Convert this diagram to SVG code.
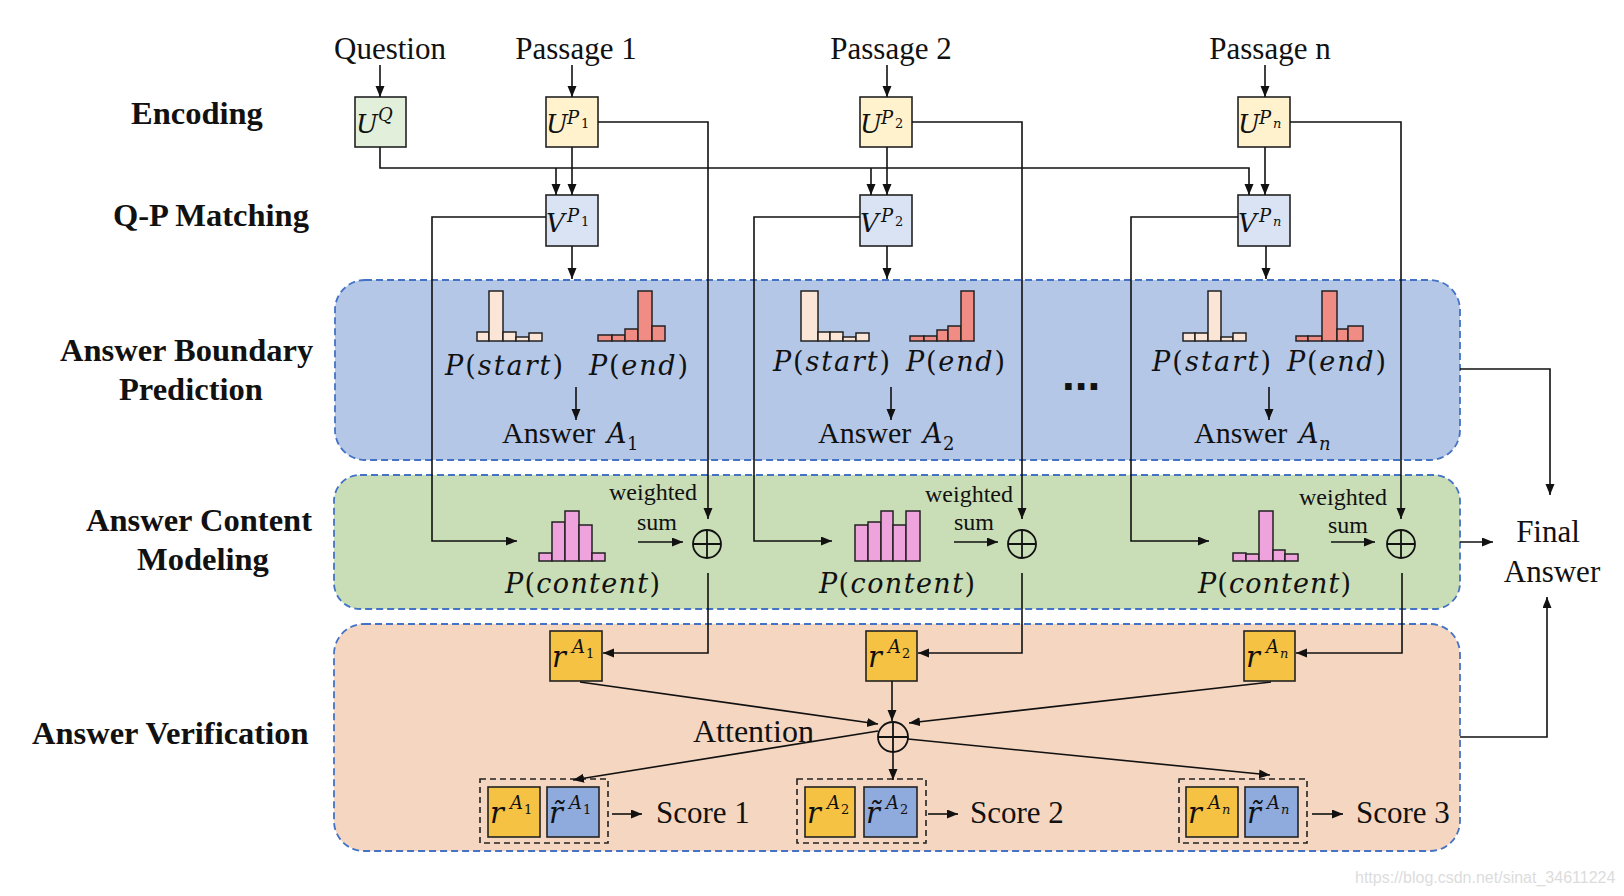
<svg xmlns="http://www.w3.org/2000/svg" width="1624" height="896" viewBox="0 0 1624 896">
<defs>
<marker id="ah" markerUnits="userSpaceOnUse" markerWidth="12" markerHeight="10" refX="11" refY="4.5" orient="auto"><path d="M0,0 L11,4.5 L0,9 z" fill="#111"/></marker>
<style>
.t{font-family:"Liberation Serif",serif;fill:#111}
.b{font-family:"Liberation Serif",serif;font-weight:bold;font-size:32.5px;fill:#111}
.m{font-family:"DejaVu Serif",serif;font-style:italic;fill:#111}
.u{font-style:normal}
.ln{fill:none;stroke:#111;stroke-width:1.6}
.ar{marker-end:url(#ah)}
.bx{stroke:#222;stroke-width:1.6}
.hs{fill:#FBE5D6;stroke:#222;stroke-width:1.5}
.he{fill:#F18C85;stroke:#222;stroke-width:1.5}
.hc{fill:#EFA3DC;stroke:#222;stroke-width:1.5}
.reg{stroke:#4472C4;stroke-width:1.8;stroke-dasharray:7 4}
.dsh{fill:none;stroke:#222;stroke-width:1.6;stroke-dasharray:6 4}
.uq{fill:#E2EFDA}.up{fill:#FFF2CC}.vp{fill:#DAE3F3}.ry{fill:#F6C244}.rb{fill:#8FAADC}
.ci{fill:none;stroke:#111;stroke-width:1.8}
.L{font-size:26px}.S{font-size:18px}.s{font-size:13px}
</style>
</defs>
<rect width="1624" height="896" fill="#fff"/>

<g id="regions">
<rect id="boundary-region" class="reg" x="335" y="280" width="1125" height="180" rx="30" fill="#B4C7E7"/>
<rect id="content-region" class="reg" x="334" y="475" width="1126" height="134" rx="26" fill="#C9DEB6"/>
<rect id="verify-region" class="reg" x="334" y="624" width="1126" height="227" rx="30" fill="#F5D6C0"/>
</g>

<g id="row-labels">
<text class="b" x="131" y="124">Encoding</text>
<text class="b" x="113" y="226">Q-P Matching</text>
<text class="b" x="60" y="361">Answer Boundary</text>
<text class="b" x="119" y="400">Prediction</text>
<text class="b" x="86" y="531">Answer Content</text>
<text class="b" x="137" y="570">Modeling</text>
<text class="b" x="32" y="744">Answer Verification</text>
</g>

<g id="inputs" font-size="31">
<text class="t" x="390" y="59" text-anchor="middle">Question</text>
<text class="t" x="576" y="59" text-anchor="middle">Passage 1</text>
<text class="t" x="891" y="59" text-anchor="middle">Passage 2</text>
<text class="t" x="1270" y="59" text-anchor="middle">Passage n</text>
</g>

<g id="UQ">
<rect class="bx uq" x="355" y="97" width="51" height="50"/>
<text class="m L" x="356" y="133">U</text><text class="m S" x="378" y="121">Q</text>
</g>
<g id="UP1">
<rect class="bx up" x="546" y="97" width="52" height="50"/>
<text class="m L" x="546" y="133">U</text><text class="m S" x="567" y="124">P</text><text class="m u s" x="581" y="128">1</text>
</g>
<g id="UP2">
<rect class="bx up" x="860" y="97" width="52" height="50"/>
<text class="m L" x="860" y="133">U</text><text class="m S" x="881" y="124">P</text><text class="m u s" x="895" y="128">2</text>
</g>
<g id="UPn">
<rect class="bx up" x="1238" y="97" width="52" height="50"/>
<text class="m L" x="1238" y="133">U</text><text class="m S" x="1259" y="124">P</text><text class="m s" x="1273" y="128">n</text>
</g>

<g id="VP1">
<rect class="bx vp" x="546" y="195" width="52" height="51"/>
<text class="m L" x="546" y="232">V</text><text class="m S" x="567" y="222">P</text><text class="m u s" x="581" y="226">1</text>
</g>
<g id="VP2">
<rect class="bx vp" x="860" y="195" width="52" height="51"/>
<text class="m L" x="860" y="232">V</text><text class="m S" x="881" y="222">P</text><text class="m u s" x="895" y="226">2</text>
</g>
<g id="VPn">
<rect class="bx vp" x="1238" y="195" width="52" height="51"/>
<text class="m L" x="1238" y="232">V</text><text class="m S" x="1259" y="222">P</text><text class="m s" x="1273" y="226">n</text>
</g>

<g id="boundary-1">
<rect class="hs" x="477" y="332" width="12" height="9"/><rect class="hs" x="489" y="291" width="14" height="50"/><rect class="hs" x="503" y="332" width="13" height="9"/><rect class="hs" x="516" y="337" width="13" height="4"/><rect class="hs" x="529" y="333" width="13" height="8"/>
<rect class="he" x="598" y="335" width="14" height="6"/><rect class="he" x="612" y="335" width="13" height="6"/><rect class="he" x="625" y="329" width="13" height="12"/><rect class="he" x="638" y="291" width="14" height="50"/><rect class="he" x="652" y="326" width="13" height="15"/>
<text class="m" x="445" y="375" font-size="27" textLength="118">P<tspan class="u">(</tspan>start<tspan class="u">)</tspan></text>
<text class="m" x="589" y="375" font-size="27" textLength="99">P<tspan class="u">(</tspan>end<tspan class="u">)</tspan></text>
<text class="t" x="502" y="443" font-size="30">Answer</text><text class="m" x="607" y="443" font-size="27">A</text><text class="m u" x="627" y="450" font-size="18">1</text>
</g>
<g id="boundary-2">
<rect class="hs" x="801" y="291" width="17" height="50"/><rect class="hs" x="818" y="332" width="12" height="9"/><rect class="hs" x="830" y="332" width="13" height="9"/><rect class="hs" x="843" y="337" width="13" height="4"/><rect class="hs" x="856" y="333" width="13" height="8"/>
<rect class="he" x="910" y="336" width="14" height="5"/><rect class="he" x="924" y="336" width="13" height="5"/><rect class="he" x="937" y="330" width="11" height="11"/><rect class="he" x="948" y="326" width="13" height="15"/><rect class="he" x="961" y="291" width="13" height="50"/>
<text class="m" x="773" y="371" font-size="27" textLength="117">P<tspan class="u">(</tspan>start<tspan class="u">)</tspan></text>
<text class="m" x="906" y="371" font-size="27" textLength="99">P<tspan class="u">(</tspan>end<tspan class="u">)</tspan></text>
<text class="t" x="818" y="443" font-size="30">Answer</text><text class="m" x="923" y="443" font-size="27">A</text><text class="m u" x="943" y="450" font-size="18">2</text>
</g>
<text id="ellipsis" x="1062" y="390" font-family="Liberation Sans, sans-serif" font-weight="bold" font-size="46" fill="#111">...</text>
<g id="boundary-n">
<rect class="hs" x="1183" y="333" width="12" height="8"/><rect class="hs" x="1195" y="333" width="13" height="8"/><rect class="hs" x="1208" y="291" width="13" height="50"/><rect class="hs" x="1221" y="337" width="12" height="4"/><rect class="hs" x="1233" y="333" width="13" height="8"/>
<rect class="he" x="1296" y="336" width="12" height="5"/><rect class="he" x="1308" y="336" width="14" height="5"/><rect class="he" x="1322" y="291" width="15" height="50"/><rect class="he" x="1337" y="329" width="11" height="12"/><rect class="he" x="1348" y="326" width="15" height="15"/>
<text class="m" x="1152" y="371" font-size="27" textLength="119">P<tspan class="u">(</tspan>start<tspan class="u">)</tspan></text>
<text class="m" x="1287" y="371" font-size="27" textLength="99">P<tspan class="u">(</tspan>end<tspan class="u">)</tspan></text>
<text class="t" x="1194" y="443" font-size="30">Answer</text><text class="m" x="1299" y="443" font-size="27">A</text><text class="m" x="1319" y="450" font-size="18">n</text>
</g>

<g id="content-1">
<rect class="hc" x="539" y="553" width="13" height="8"/><rect class="hc" x="552" y="522" width="13" height="39"/><rect class="hc" x="565" y="511" width="14" height="50"/><rect class="hc" x="579" y="525" width="13" height="36"/><rect class="hc" x="592" y="553" width="13" height="8"/>
<text class="m" x="505" y="593" font-size="27" textLength="155">P<tspan class="u">(</tspan>content<tspan class="u">)</tspan></text>
<text class="t" x="609" y="500" font-size="24">weighted</text><text class="t" x="637" y="530" font-size="24">sum</text>
<circle class="ci" cx="707" cy="544" r="14"/><path class="ci" d="M693,544 H721 M707,530 V558"/>
</g>
<g id="content-2">
<rect class="hc" x="855" y="525" width="13" height="36"/><rect class="hc" x="868" y="522" width="13" height="39"/><rect class="hc" x="881" y="511" width="12" height="50"/><rect class="hc" x="893" y="525" width="13" height="36"/><rect class="hc" x="906" y="511" width="14" height="50"/>
<text class="m" x="819" y="593" font-size="27" textLength="156">P<tspan class="u">(</tspan>content<tspan class="u">)</tspan></text>
<text class="t" x="925" y="502" font-size="24">weighted</text><text class="t" x="954" y="530" font-size="24">sum</text>
<circle class="ci" cx="1022" cy="544" r="14"/><path class="ci" d="M1008,544 H1036 M1022,530 V558"/>
</g>
<g id="content-n">
<rect class="hc" x="1233" y="553" width="13" height="8"/><rect class="hc" x="1246" y="554" width="13" height="7"/><rect class="hc" x="1259" y="511" width="14" height="50"/><rect class="hc" x="1273" y="550" width="12" height="11"/><rect class="hc" x="1285" y="554" width="13" height="7"/>
<text class="m" x="1198" y="593" font-size="27" textLength="153">P<tspan class="u">(</tspan>content<tspan class="u">)</tspan></text>
<text class="t" x="1299" y="505" font-size="24">weighted</text><text class="t" x="1328" y="533" font-size="24">sum</text>
<circle class="ci" cx="1401" cy="544" r="14"/><path class="ci" d="M1387,544 H1415 M1401,530 V558"/>
</g>

<g id="rA1">
<rect class="bx ry" x="550" y="631" width="52" height="50"/>
<text class="m" x="552" y="667" font-size="29">r</text><text class="m" x="572" y="653" font-size="18">A</text><text class="m u" x="586" y="658" font-size="13">1</text>
</g>
<g id="rA2">
<rect class="bx ry" x="866" y="631" width="51" height="50"/>
<text class="m" x="868" y="667" font-size="29">r</text><text class="m" x="888" y="653" font-size="18">A</text><text class="m u" x="902" y="658" font-size="13">2</text>
</g>
<g id="rAn">
<rect class="bx ry" x="1244" y="631" width="51" height="50"/>
<text class="m" x="1246" y="667" font-size="29">r</text><text class="m" x="1266" y="653" font-size="18">A</text><text class="m" x="1280" y="658" font-size="13">n</text>
</g>

<g id="attention">
<circle class="ci" cx="893" cy="737" r="15"/><path class="ci" d="M878,737 H908 M893,722 V752"/>
<text class="t" x="693" y="742" font-size="32">Attention</text>
</g>

<g id="score-1">
<rect class="dsh" x="480" y="779" width="128" height="64"/>
<rect class="bx ry" x="488" y="787" width="52" height="50"/>
<text class="m" x="490" y="823" font-size="29">r</text><text class="m" x="510" y="809" font-size="18">A</text><text class="m u" x="524" y="814" font-size="13">1</text>
<rect class="bx rb" x="547" y="787" width="52" height="50"/>
<text class="m" x="549" y="823" font-size="29">r&#x303;</text><text class="m" x="569" y="809" font-size="18">A</text><text class="m u" x="583" y="814" font-size="13">1</text>
<text class="t" x="656" y="823" font-size="31">Score 1</text>
</g>
<g id="score-2">
<rect class="dsh" x="797" y="779" width="129" height="64"/>
<rect class="bx ry" x="805" y="787" width="50" height="50"/>
<text class="m" x="807" y="823" font-size="29">r</text><text class="m" x="827" y="809" font-size="18">A</text><text class="m u" x="841" y="814" font-size="13">2</text>
<rect class="bx rb" x="864" y="787" width="53" height="50"/>
<text class="m" x="866" y="823" font-size="29">r&#x303;</text><text class="m" x="886" y="809" font-size="18">A</text><text class="m u" x="900" y="814" font-size="13">2</text>
<text class="t" x="970" y="823" font-size="31">Score 2</text>
</g>
<g id="score-n">
<rect class="dsh" x="1179" y="779" width="128" height="64"/>
<rect class="bx ry" x="1186" y="787" width="52" height="50"/>
<text class="m" x="1188" y="823" font-size="29">r</text><text class="m" x="1208" y="809" font-size="18">A</text><text class="m" x="1222" y="814" font-size="13">n</text>
<rect class="bx rb" x="1245" y="787" width="53" height="50"/>
<text class="m" x="1247" y="823" font-size="29">r&#x303;</text><text class="m" x="1267" y="809" font-size="18">A</text><text class="m" x="1281" y="814" font-size="13">n</text>
<text class="t" x="1356" y="823" font-size="31">Score 3</text>
</g>

<g id="final-answer">
<text class="t" x="1548" y="542" font-size="31" text-anchor="middle">Final</text>
<text class="t" x="1552" y="582" font-size="31" text-anchor="middle">Answer</text>
</g>

<g id="connectors">
<path class="ln ar" d="M380,65 V97"/>
<path class="ln ar" d="M572,65 V97"/>
<path class="ln ar" d="M887,65 V97"/>
<path class="ln ar" d="M1265,65 V97"/>
<path class="ln ar" d="M380,147 V168 H1249 V195"/>
<path class="ln ar" d="M556,168 V195"/>
<path class="ln ar" d="M871,168 V195"/>
<path class="ln ar" d="M572,147 V195"/>
<path class="ln ar" d="M887,147 V195"/>
<path class="ln ar" d="M1265,147 V195"/>
<path class="ln ar" d="M598,122 H708 V519"/>
<path class="ln ar" d="M912,122 H1022 V519"/>
<path class="ln ar" d="M1290,122 H1401 V519"/>
<path class="ln ar" d="M546,217 H432 V541 H517"/>
<path class="ln ar" d="M860,217 H754 V541 H832"/>
<path class="ln ar" d="M1238,217 H1131 V541 H1209"/>
<path class="ln ar" d="M572,246 V279"/>
<path class="ln ar" d="M887,246 V279"/>
<path class="ln ar" d="M1266,246 V279"/>
<path class="ln ar" d="M576,387 V420"/>
<path class="ln ar" d="M891,387 V420"/>
<path class="ln ar" d="M1269,387 V420"/>
<path class="ln ar" d="M638,542 H683"/>
<path class="ln ar" d="M954,542 H998"/>
<path class="ln ar" d="M1331,542 H1375"/>
<path class="ln ar" d="M708,573 V653 H603"/>
<path class="ln ar" d="M1022,573 V653 H918"/>
<path class="ln ar" d="M1402,573 V653 H1296"/>
<path class="ln ar" d="M580,682 L878,724"/>
<path class="ln ar" d="M892,681 V721"/>
<path class="ln ar" d="M1271,682 L909,723"/>
<path class="ln ar" d="M893,752 V780"/>
<path class="ln ar" d="M878,731 L573,780"/>
<path class="ln ar" d="M908,739 L1270,775"/>
<path class="ln ar" d="M612,814 H642"/>
<path class="ln ar" d="M928,814 H958"/>
<path class="ln ar" d="M1312,814 H1343"/>
<path class="ln ar" d="M1460,369 H1550 V495"/>
<path class="ln ar" d="M1460,542 H1493"/>
<path class="ln ar" d="M1460,737 H1547 V597"/>
</g>

<text id="watermark" x="1355" y="883" font-family="Liberation Sans, sans-serif" font-size="16" fill="#dcdcdc">https://blog.csdn.net/sinat_34611224</text>
</svg>
